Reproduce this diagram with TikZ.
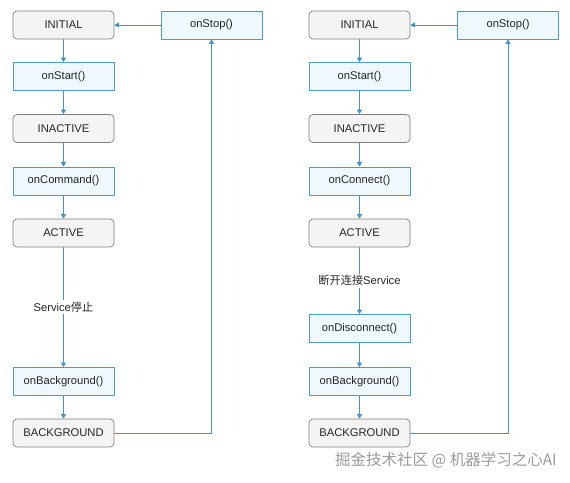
\documentclass[tikz,border=0pt]{standalone}
\usepackage{fontspec}
\setmainfont{Liberation Sans}
\newfontfamily\cjk{Noto Sans CJK SC}
\usetikzlibrary{arrows.meta}
\definecolor{sfill}{HTML}{F4F4F4}
\definecolor{sdraw}{HTML}{808080}
\definecolor{mfill}{HTML}{EEF8FD}
\definecolor{mdraw}{HTML}{4A9ACB}
\definecolor{arr}{HTML}{4A90C2}
\definecolor{txt}{HTML}{262626}
\definecolor{wm}{HTML}{9A9A9A}
\begin{document}
\begin{tikzpicture}[x=1pt,y=-1pt,
  box/.style={minimum width=101pt,minimum height=28pt,inner sep=0pt,
    font=\fontsize{11.2}{13}\selectfont,text=txt,line width=0.7pt},
  state/.style={box,draw=sdraw,fill=sfill,rounded corners=4pt},
  method/.style={box,draw=mdraw,fill=mfill},
  flow/.style={draw=arr,line width=0.8pt,-{Triangle[width=5pt,length=4.5pt]}},
  lbl/.style={fill=white,inner sep=2pt,font=\fontsize{11.2}{13}\selectfont,text=txt}]
\useasboundingbox (0,0) rectangle (570,482);
% left column
\node[state]  (li)  at (63.5,25)   {INITIAL};
\node[method] (lst) at (63.5,76.5) {onStart()};
\node[state]  (lin) at (63.5,128.5){INACTIVE};
\node[method] (lc)  at (63.5,181)  {onCommand()};
\node[state]  (la)  at (63.5,233)  {ACTIVE};
\node[method] (lb)  at (63.5,381.5){onBackground()};
\node[state]  (lbg) at (63.5,433)  {BACKGROUND};
\node[method] (lsp) at (211.5,25)  {onStop()};
\draw[flow] (li) -- (lst);
\draw[flow] (lst) -- (lin);
\draw[flow] (lin) -- (lc);
\draw[flow] (lc) -- (la);
\draw[flow] (la) -- node[lbl] {Service{\cjk 停止}} (lb);
\draw[flow] (lb) -- (lbg);
\draw[flow] (lbg.east) -| (lsp.south);
\draw[flow] (lsp) -- (li);
% right column
\node[state]  (ri)  at (359.5,25)   {INITIAL};
\node[method] (rst) at (359.5,76.5) {onStart()};
\node[state]  (rin) at (359.5,128.5){INACTIVE};
\node[method] (rc)  at (359.5,181)  {onConnect()};
\node[state]  (ra)  at (359.5,233)  {ACTIVE};
\node[method] (rd)  at (359.5,328.5){onDisconnect()};
\node[method] (rb)  at (359.5,381.5){onBackground()};
\node[state]  (rbg) at (359.5,433)  {BACKGROUND};
\node[method] (rsp) at (508,25)     {onStop()};
\draw[flow] (ri) -- (rst);
\draw[flow] (rst) -- (rin);
\draw[flow] (rin) -- (rc);
\draw[flow] (rc) -- (ra);
\draw[flow] (ra) -- node[lbl] {{\cjk 断开连接}Service} (rd);
\draw[flow] (rd) -- (rb);
\draw[flow] (rb) -- (rbg);
\draw[flow] (rbg.east) -| (rsp.south);
\draw[flow] (rsp) -- (ri);
% watermark
\node[text=wm,font=\cjk\fontsize{15.5}{18}\selectfont,inner sep=0pt] (wmk) at (446,460) {掘金技术社区 @ 机器学习之心AI};
\end{tikzpicture}
\end{document}
